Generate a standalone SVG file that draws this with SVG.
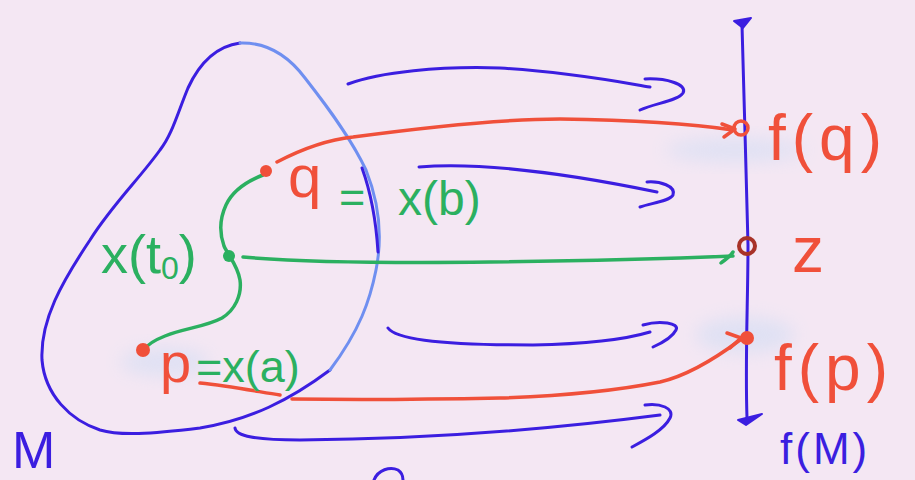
<svg xmlns="http://www.w3.org/2000/svg" width="915" height="480" viewBox="0 0 915 480">
<defs>
<filter id="blur" x="-50%" y="-50%" width="200%" height="200%"><feGaussianBlur stdDeviation="9"/></filter>
<style>
.blue{fill:none;stroke:#3b1ee0;stroke-width:3;stroke-linecap:round;stroke-linejoin:round}
.lblue{fill:none;stroke:#6f8ff0;stroke-width:3;stroke-linecap:round}
.red{fill:none;stroke:#f0503a;stroke-width:3.5;stroke-linecap:round;stroke-linejoin:round}
.green{fill:none;stroke:#2bb060;stroke-width:3.5;stroke-linecap:round;stroke-linejoin:round}
.t{font-family:"Liberation Sans",Arial,sans-serif}
.tr{fill:#f0503a}
.tg{fill:#2bb060}
.tb{fill:#3b1ee0}
.smudge{fill:#c6daf4;opacity:0.45;filter:url(#blur)}
.tip{fill:#3b1ee0;stroke:#3b1ee0;stroke-width:2;stroke-linejoin:round}
</style>
</defs>
<rect width="915" height="480" fill="#f4e7f3"/>

<g id="smudges">
<ellipse class="smudge" cx="735" cy="150" rx="70" ry="12"/>
<ellipse class="smudge" cx="745" cy="335" rx="50" ry="18"/>
<ellipse class="smudge" cx="165" cy="362" rx="45" ry="14"/>
</g>

<g id="blob">
<path class="blue" d="M240,43 C218,46 200,62 188,88 C178,112 172,135 160,150 C140,178 112,205 90,240 C62,282 40,320 42,360 C45,395 70,420 100,430 C120,436 150,434 200,428 C250,420 290,400 330,370"/>
<path class="lblue" d="M240,43 C270,42 290,58 305,78 C330,110 352,140 366,170 C380,205 382,240 376,270 C370,300 360,330 330,370"/>
<path class="blue" d="M362,168 C370,190 376,220 378,252"/>
</g>

<g id="connectors">
<path class="blue" d="M348,84 C380,72 440,66 500,68 C570,72 620,82 650,87"/>
<path class="blue" d="M645,79 C665,78 688,84 683,93 C678,101 655,103 640,110"/>
<path class="blue" d="M419,167 C480,162 560,172 657,192"/>
<path class="blue" d="M647,182 C660,181 676,186 673,195 C670,201 652,203 640,207"/>
<path class="blue" d="M388,328 C395,338 430,345 533,345 C590,344 630,338 650,332"/>
<path class="blue" d="M643,325 C660,320 680,323 676,330 C672,338 662,343 653,347"/>
<path class="blue" d="M235,428 C236,436 255,440 300,440 C430,439 560,428 660,415"/>
<path class="blue" d="M645,405 C660,403 675,408 670,418 C664,430 645,440 632,447"/>
<path class="red" d="M277,162 C300,150 325,140 353,137 C420,128 500,119 560,119 C640,120 700,125 733,130"/>
<path class="red" d="M722,124 L735,129 L724,137"/>
<path class="red" d="M200,383 C230,386 260,392 280,395"/>
<path class="red" d="M292,399 C360,400 450,399 500,398 C560,396 620,390 660,382 C690,375 720,355 740,340"/>
<path class="red" d="M727,333 L741,338 L730,348"/>
<path class="green" d="M263,175 C245,182 232,192 226,205 C220,218 219,232 224,246 C228,255 238,266 240,280 C242,295 235,310 222,318 C205,327 185,328 165,336 C155,340 148,344 145,349"/>
<path class="green" d="M243,257 C300,262 400,263 490,262 C580,261 660,259 733,256"/>
<path class="green" d="M721,263 C726,259 730,257 733,252"/>
<path class="blue" d="M742,25 C744,80 746,180 748,245 C748,300 745,360 747,418"/>
<path class="tip" d="M734,21 L751,18 L743,28 Z"/>
<path class="tip" d="M738,420 L762,414 L746,425 Z"/>
</g>

<g id="q">
<circle cx="266" cy="171" r="6" fill="#f0503a"/>
<text class="t tr" x="288" y="197" font-size="60">q</text>
<text class="t tg" x="339" y="212" font-size="45">=</text>
<text class="t tg" x="398" y="215" font-size="48">x(b)</text>
</g>

<g id="xt0">
<circle cx="229" cy="256" r="6" fill="#2bb060"/>
<text class="t tg" x="101" y="273" font-size="54">x(t<tspan font-size="32" dy="6">0</tspan><tspan dy="-6">)</tspan></text>
</g>

<g id="p">
<circle cx="143" cy="350" r="7" fill="#f0503a"/>
<text class="t tr" x="160" y="382" font-size="56">p</text>
<text class="t tg" x="196" y="382" font-size="45">=x(a)</text>
</g>

<g id="fq">
<circle cx="741" cy="128" r="7" fill="none" stroke="#f0503a" stroke-width="3.5"/>
<text class="t tr" x="768" y="160" font-size="64" letter-spacing="6">f(q)</text>
</g>

<g id="z">
<circle cx="747" cy="246" r="8" fill="none" stroke="#a83228" stroke-width="4"/>
<text class="t tr" x="792" y="272" font-size="64">z</text>
</g>

<g id="fp">
<circle cx="747" cy="338" r="7" fill="#f0503a"/>
<text class="t tr" x="774" y="390" font-size="64" letter-spacing="6">f(p)</text>
</g>

<g id="M">
<text class="t tb" x="12" y="468" font-size="52">M</text>
</g>

<g id="fM">
<text class="t tb" x="780" y="464" font-size="44" letter-spacing="3">f(M)</text>
</g>

<g id="partial">
<path class="blue" d="M374,480 C378,470 390,466 398,470 C401,472 403,476 403,480"/>
</g>
</svg>
